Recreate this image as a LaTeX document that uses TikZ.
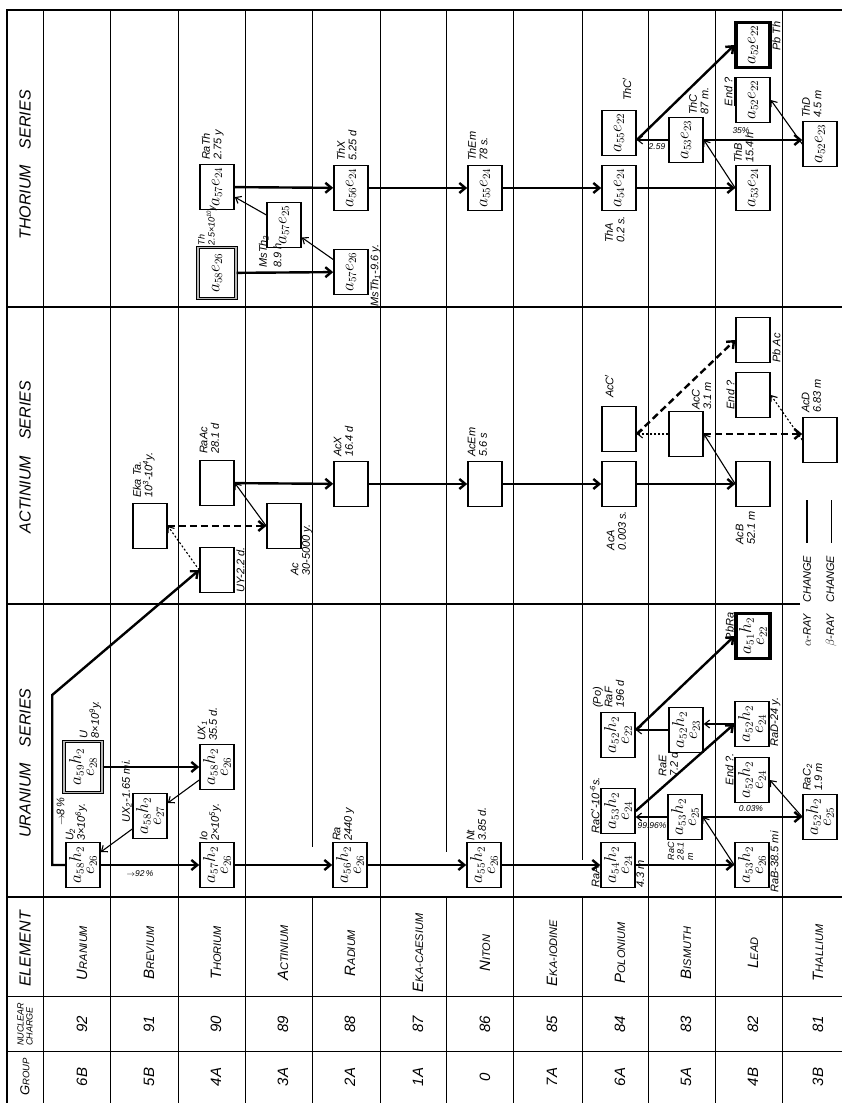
\documentclass[tikz,border=0pt]{standalone}
\usepackage{fontspec}
\setmainfont{Liberation Sans}
\usetikzlibrary{arrows.meta,calc}
\tikzset{
  iso/.style   ={draw,line width=1.6pt,minimum width=45pt,minimum height=34pt,
                 inner sep=1pt,align=center,font=\fontsize{16}{15}\selectfont},
  prnt/.style  ={iso,minimum width=51pt,minimum height=38pt,line width=1.1pt,
                 double=gray!55,double distance=1.6pt},
  stab/.style  ={iso,line width=3.2pt},
  lbl/.style   ={inner sep=0.5pt,align=left,font=\fontsize{11}{11.5}\selectfont\itshape},
  pct/.style   ={inner sep=0.5pt,rotate=-90,font=\fontsize{8.5}{8.5}\selectfont\itshape},
  hdr/.style   ={inner sep=1pt,font=\fontsize{16}{16}\selectfont\itshape},
  elm/.style   ={inner sep=1pt,font=\itshape},
  num/.style   ={inner sep=1pt,font=\fontsize{15}{15}\selectfont\itshape},
  aray/.style  ={line width=2.4pt,-{Straight Barb[length=6pt,width=10pt]}},
  bray/.style  ={line width=1.1pt,-{Straight Barb[length=5pt,width=8pt]}},
  arayq/.style ={aray,dash pattern=on 7pt off 4pt},
  brayq/.style ={bray,dash pattern=on 2pt off 2pt},
  gline/.style ={line width=1pt},
  gbold/.style ={line width=1.6pt},
}
\newcommand{\ahe}[3]{$a_{#1}h_{#2}$\\[-2pt]$e_{#3}$}
\newcommand{\aee}[2]{$a_{#1}e_{#2}$}
\newcommand{\smcp}[2]{{\fontsize{15}{15}\selectfont#1}{\fontsize{11}{11}\selectfont#2}}

\begin{document}
\begin{tikzpicture}[x=1pt,y=1pt]
\useasboundingbox (0,0) rectangle (842,1103);
\begin{scope}[shift={(842,0)},rotate=90,transform shape]
% ruling of the table
\draw[line width=2.4pt] (0,835) -- (1093,835) -- (1093,0);
\foreach \yy in {799,732,664,597,462,329,194,127,60} \draw[gline] (0,\yy) -- (1093,\yy);
\foreach \yy/\xs in {530/256,396/251,260/243} {
  \draw[gline] (0,\yy) -- (206,\yy);
  \draw[gline] (\xs,\yy) -- (1093,\yy);
}
\foreach \xx in {51,106} \draw[gline] (\xx,0) -- (\xx,835);
\foreach \xx in {206,796} \draw[gbold] (\xx,0) -- (\xx,835);
\draw[gbold] (499,42) -- (499,835);

% head row
\node[elm] (hgr) at (26,817) {{\fontsize{13}{13}\selectfont G}{\fontsize{9.5}{9.5}\selectfont ROUP}};
\node[elm,align=left,font=\fontsize{9}{9}\selectfont\itshape] (hnc) at (79,817) {NUCLEAR\\CHARGE};
\node[hdr] (hel) at (154,817) {ELEMENT};
\node[hdr] (hur) at (340,817) {URANIUM\quad SERIES};
\node[hdr] (hac) at (646,817) {ACTINIUM\quad SERIES};
\node[hdr] (hth) at (938,817) {THORIUM\quad SERIES};

\foreach \yy/\fa/\fb/\zz/\grp in {760/U/RANIUM/92/6B,693/B/REVIUM/91/5B,626/T/HORIUM/90/4A,
    559/A/CTINIUM/89/3A,492/R/ADIUM/88/2A,424/E/KA-CAESIUM/87/1A,357/N/ITON/86/0,
    290/E/KA-IODINE/85/7A,222/P/OLONIUM/84/6A,156/B/ISMUTH/83/5A,89/L/EAD/82/4B,24/T/HALLIUM/81/3B} {
  \node[elm] (el\zz) at (150,\yy) {\smcp{\fa}{\fb}};
  \node[num] (nc\zz) at (79,\yy) {\zz};
  \node[num] (gp\zz) at (26,\yy) {\grp};
}

% uranium series
\node[iso]  (U2)   at (238,759) {\ahe{58}{2}{26}};
\node[prnt] (U)    at (336,759) {\ahe{59}{2}{28}};
\node[iso]  (UXb)  at (287,692) {\ahe{58}{2}{27}};
\node[iso]  (UXa)  at (336,625) {\ahe{58}{2}{26}};
\node[iso]  (Io)   at (238,625) {\ahe{57}{2}{26}};
\node[iso]  (Ra)   at (238,492) {\ahe{56}{2}{26}};
\node[iso]  (Nt)   at (238,358) {\ahe{55}{2}{26}};
\node[iso]  (RaA)  at (238,224) {\ahe{54}{2}{24}};
\node[iso]  (RaCp) at (292,224) {\ahe{53}{2}{24}};
\node[iso]  (RaF)  at (368,224) {\ahe{52}{2}{22}};
\node[iso]  (RaC)  at (286,157) {\ahe{53}{2}{25}};
\node[iso]  (RaE)  at (373,156) {\ahe{52}{2}{23}};
\node[iso]  (RaB)  at (238,90)  {\ahe{53}{2}{26}};
\node[iso]  (EndR) at (323,90)  {\ahe{52}{2}{24}};
\node[iso]  (RaD)  at (379,90)  {\ahe{52}{2}{24}};
\node[stab] (PbRa) at (467,89)  {\ahe{51}{2}{22}};
\node[iso]  (RaCb) at (286,22)  {\ahe{52}{2}{25}};

\node[lbl,anchor=north west] (lU2) at (U2.north east) {U\textsubscript{2}\\3×10\textsuperscript{6}y.};
\node[lbl,anchor=south west] (p8) at ([xshift=15pt]U2.north east) {$\rightarrow$8\,\%};
\node[lbl,anchor=north west] (lU) at ([shift={(2,4)}]U.east) {U\\8×10\textsuperscript{9}y.};
\node[lbl,anchor=north west] (lUXa) at ([shift={(2,2)}]UXa.north east) {UX\textsubscript{1}\\35.5 d.};
\node[lbl,anchor=south west] (lUXb) at ([xshift=-7pt]UXb.north) {UX\textsubscript{2}-1.65 mi.};
\node[lbl,anchor=north west] (lIo) at (Io.north east) {Io\\2×10\textsuperscript{5}y.};
\node[lbl,anchor=north west] (lRa) at (Ra.north east) {Ra\\2440 y};
\node[lbl,anchor=north west] (lNt) at (Nt.north east) {Nt\\3.85 d.};
\node[lbl,anchor=south west] (lRaA) at (RaA.north west) {RaA};
\node[lbl,anchor=north west] (tRaA) at (RaA.south west) {4.3 m};
\node[lbl,anchor=south west] (lRaCp) at (RaCp.north west) {RaC$'$-10\textsuperscript{-6}s.};
\node[lbl,anchor=north west] (lRaF) at ([shift={(3,8)}]RaF.north east) {(Po)\\RaF\\196 d};
\node[lbl,anchor=north east,font=\fontsize{9}{9.5}\selectfont\itshape] (lRaC) at ([shift={(-1,0)}]RaC.north west) {RaC\\28.1\\m};
\node[lbl,anchor=north east] (lRaE) at ([shift={(2,10)}]RaE.north west) {RaE\\7.2 d};
\node[lbl,anchor=north west] (lRaB) at ([xshift=-5pt]RaB.south west) {RaB-38.5 mi};
\node[lbl,anchor=north west] (lRaD) at (RaD.south west) {RaD-24 y.};
\node[lbl,anchor=south east] (lEndR) at ([xshift=4pt]EndR.north east) {End ?.};
\node[lbl,anchor=south east] (lPbRa) at (PbRa.north east) {PbRa};
\node[lbl,anchor=north west] (lRaCb) at ([xshift=2pt]RaCb.north east) {RaC\textsubscript{2}\\1.9 m};
\node[pct] (p92) at (229,702) {$\rightarrow$92\,\%};
\node[pct] (p99) at (277,190) {99.96\%};
\node[pct] (p003) at (294,91) {0.03\%};

\draw[aray] (U) -- (UXa);
\draw[bray] (UXa) -- (UXb);
\draw[bray] (UXb) -- (U2);
\draw[aray] (U2) -- (Io);
\draw[aray] (Io) -- (Ra);
\draw[aray] (Ra) -- (Nt);
\draw[aray] (Nt) -- (RaA);
\draw[aray] (RaA) -- (RaB);
\draw[bray] (RaB.north) -- (RaC.south);
\draw[bray] (RaC.north) -- (RaC.north |- RaCp.south);
\draw[aray] (RaC.south) -- (RaC.south |- RaCb.north);
\draw[aray] (RaCp.south) -- (RaD.north);
\draw[bray] (RaD.north) -- (RaD.north |- RaE.south);
\draw[bray] (RaE.north) -- (RaE.north |- RaF.south);
\draw[aray] (RaE.north |- RaF.south) -- (PbRa.north);
\draw[bray] (RaCb.north) -- (EndR.south);

% actinium series
\node[iso] (EkTa) at (577,692) {};
\node[iso] (UY)   at (533,625) {};
\node[iso] (RaAc) at (620,625) {};
\node[iso] (Ac)   at (577,558) {};
\node[iso] (AcX)  at (619,491) {};
\node[iso] (AcEm) at (619,357) {};
\node[iso] (AcA)  at (619,223) {};
\node[iso] (AcCp) at (674,223) {};
\node[iso] (AcC)  at (669,156) {};
\node[iso] (AcB)  at (619,89)  {};
\node[iso] (EndA) at (708,89)  {};
\node[iso] (PbAc) at (763,89)  {};
\node[iso] (AcD)  at (663,22)  {};

\node[lbl,anchor=north west] (lEkTa) at ([xshift=4pt]EkTa.north east) {Eka Ta.\\10\textsuperscript{3}-10\textsuperscript{4}y.};
\node[lbl,anchor=north west] (lUY) at ([yshift=-1pt]UY.south west) {UY-2.2 d.};
\node[lbl,anchor=north west] (lRaAc) at ([xshift=5pt]RaAc.north east) {RaAc\\28.1 d};
\node[lbl,anchor=north west] (lAc) at ([shift={(-27,-24)}]Ac.north west) {Ac\\30-5000 y.};
\node[lbl,anchor=north west] (lAcX) at ([xshift=3pt]AcX.north east) {AcX\\16.4 d};
\node[lbl,anchor=north west] (lAcEm) at ([xshift=3pt]AcEm.north east) {AcEm\\5.6 s};
\node[lbl,anchor=north east] (lAcA) at ([shift={(-3,-5)}]AcA.north west) {AcA\\0.003 s.};
\node[lbl,anchor=north west] (lAcCp) at ([shift={(7,-3)}]AcCp.north east) {AcC$'$};
\node[lbl,anchor=north west] (lAcC) at ([shift={(0,-23)}]AcC.north east) {AcC\\3.1 m};
\node[lbl,anchor=north east] (lAcB) at ([xshift=-3pt]AcB.north west) {AcB\\52.1 m};
\node[lbl,anchor=south] (lEndA) at (EndA.north) {End ?};
\node[lbl,anchor=north west] (lPbAc) at ([yshift=-1pt]PbAc.south west) {Pb Ac};
\node[lbl,anchor=north west] (lAcD) at ([shift={(3,1)}]AcD.north east) {AcD\\6.83 m};

\draw[aray] (U2.north) -- ++(0,13) -- ++(170,0) -- (UY.north);
\draw[brayq] (UY.north) -- (EkTa.south);
\draw[arayq] (EkTa) -- (Ac);
\draw[bray] (Ac.north) -- (RaAc.south);
\draw[aray] (RaAc) -- (AcX);
\draw[aray] (AcX) -- (AcEm);
\draw[aray] (AcEm) -- (AcA);
\draw[aray] (AcA) -- (AcB);
\draw[bray] (AcB.north) -- (AcC.south);
\draw[brayq] (AcC.north) -- (AcC.north |- AcCp.south);
\draw[arayq] (AcC.south) -- (AcC.south |- AcD.north);
\draw[arayq] (AcC.north |- AcCp.south) -- (PbAc.north);
\draw[brayq] (AcD.north) -- (EndA.south);

% thorium series
\node[prnt] (Th)   at (830,625) {\aee{58}{26}};
\node[iso]  (RaTh) at (916,625) {\aee{57}{24}};
\node[iso]  (MsTb) at (878,558) {\aee{57}{25}};
\node[iso]  (MsTa) at (831,491) {\aee{57}{26}};
\node[iso]  (ThX)  at (915,491) {\aee{56}{24}};
\node[iso]  (ThEm) at (915,357) {\aee{55}{24}};
\node[iso]  (ThA)  at (915,223) {\aee{54}{24}};
\node[iso]  (ThCp) at (970,223) {\aee{55}{22}};
\node[iso]  (ThC)  at (963,156) {\aee{53}{23}};
\node[iso]  (ThB)  at (915,89)  {\aee{53}{24}};
\node[iso]  (EndT) at (1003,89) {\aee{52}{22}};
\node[stab] (PbTh) at (1058,89) {\aee{52}{22}};
\node[iso]  (ThD)  at (959,22)  {\aee{52}{23}};

\node[lbl,anchor=north west,font=\fontsize{9}{10}\selectfont\itshape] (lTh) at ([xshift=1pt]Th.north east) {Th\\2.5×10\textsuperscript{10}y};
\node[lbl,anchor=north west] (lRaTh) at ([shift={(3,-2)}]RaTh.north east) {RaTh\\2.75 y};
\node[lbl,anchor=north west] (lMsTb) at ([shift={(-20,8)}]MsTb.north west) {MsTh\textsubscript{2}\\[3pt]8.9 h};
\node[lbl,anchor=north west] (lMsTa) at ([shift={(-12,-1)}]MsTa.south west) {MsTh\textsubscript{1}-9.6 y.};
\node[lbl,anchor=north west] (lThX) at ([shift={(3,-3)}]ThX.north east) {ThX\\5.25 d};
\node[lbl,anchor=north west] (lThEm) at ([xshift=3pt]ThEm.north east) {ThEm\\78 s.};
\node[lbl,anchor=north east] (lThA) at ([shift={(-4,-3)}]ThA.north west) {ThA\\0.2 s.};
\node[lbl,anchor=west] (lThCp) at ([shift={(8,-8)}]ThCp.east) {ThC$'$};
\node[lbl,anchor=north west] (lThC) at ([shift={(1,-20)}]ThC.north east) {ThC\\87 m.};
\node[lbl,anchor=north west] (lThB) at ([shift={(1,2)}]ThB.north east) {ThB\\15.4 h};
\node[lbl,anchor=south east] (lEndT) at (EndT.north east) {\underline{End ?}};
\node[lbl,anchor=north east] (lPbTh) at (PbTh.south east) {Pb Th};
\node[lbl,anchor=north west] (lThD) at ([shift={(2,1)}]ThD.north east) {ThD\\4.5 m};
\node[pct] (p35) at (972,101) {35\%};
\node[pct] (p259) at (956,185) {2.59};

\draw[aray] (Th) -- (MsTa);
\draw[bray] (MsTa) -- (MsTb);
\draw[bray] (MsTb) -- (RaTh);
\draw[aray] (RaTh) -- (ThX);
\draw[aray] (ThX) -- (ThEm);
\draw[aray] (ThEm) -- (ThA);
\draw[aray] (ThA) -- (ThB);
\draw[bray] (ThB.north) -- (ThC.south);
\draw[bray] (ThC.north) -- (ThC.north |- ThCp.south);
\draw[aray] (ThC.south) -- (ThC.south |- ThD.north);
\draw[aray] (ThC.north |- ThCp.south) -- (PbTh.north);
\draw[bray] (ThD.north) -- (EndT.south);

% key
\node[lbl,anchor=east] (kya) at (548,35) {{\fontsize{13}{13}\selectfont$\alpha$}-RAY\quad CHANGE};
\node[lbl,anchor=east] (kyb) at (548,11) {{\fontsize{13}{13}\selectfont$\beta$}-RAY\quad CHANGE};
\draw[line width=2.6pt] ([xshift=12pt]kya.east) -- ++(43,0);
\draw[line width=1pt] ([xshift=12pt]kyb.east) -- ++(43,0);
\end{scope}
\end{tikzpicture}
\end{document}
